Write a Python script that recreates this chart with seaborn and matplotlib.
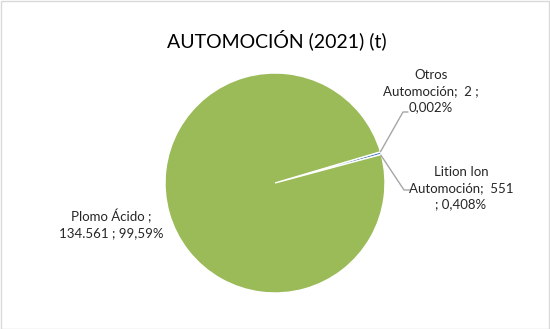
import numpy as np
import matplotlib
matplotlib.use("Agg")
import matplotlib.pyplot as plt
import seaborn as sns
from matplotlib.patches import Rectangle

# ---- data ----
categories = ["Otros\nAutomoción", "Lition Ion\nAutomoción", "Plomo Ácido"]
values = [2, 551, 134561]
value_labels = ["2", "551", "134.561"]
pct_labels = ["0,002%", "0,408%", "99,59%"]
colors = ["#C0504D", "#4F81BD", "#9BBB59"]
title = "AUTOMOCIÓN (2021) (t)"

sns.set_theme(style="white")
plt.rcParams["font.family"] = ["Lato", "DejaVu Sans"]

W, H = 550, 329
fig = plt.figure(figsize=(W / 100, H / 100), dpi=100)
ax = fig.add_axes([0, 0, 1, 1])

cx, cy, r = 275, H - 183, 110
wedges, _ = ax.pie(values, colors=colors, startangle=16.5, counterclock=False,
                   center=(cx, cy), radius=r, frame=True,
                   wedgeprops=dict(edgecolor="white", linewidth=1.0))
ax.set_xlim(0, W)
ax.set_ylim(0, H)
ax.set_aspect("equal")
ax.axis("off")

# border
fig.patches.append(Rectangle((0.5 / W, 0.5 / H), 1 - 1.5 / W, 1 - 1.5 / H,
                             transform=fig.transFigure, fill=False,
                             edgecolor="#D9D9D9", linewidth=1.0))

ax.text(W / 2 + 2, H - 40, title, ha="center", va="center", fontsize=14, color="#000000")

lab_fs = 9.5
txt_c = "#262626"
line_c = "#A6A6A6"

def edge_pt(w):
    th = np.deg2rad((w.theta1 + w.theta2) / 2)
    return cx + r * np.cos(th), cy + r * np.sin(th)

# Otros
ex, ey = edge_pt(wedges[0])
ax.plot([ex, 403, 408], [ey, H - 112, H - 112], color=line_c, lw=1)
ax.text(431, H - 91, f"Otros\nAutomoción;  {value_labels[0]} ;\n{pct_labels[0]}",
        ha="center", va="center", fontsize=lab_fs, linespacing=1.4, color=txt_c)
# Litio
ex, ey = edge_pt(wedges[1])
ax.plot([ex, 404, 410], [ey - 2, H - 190, H - 190], color=line_c, lw=1)
ax.text(461, H - 188, f"Lition Ion\nAutomoción;  {value_labels[1]}\n; {pct_labels[1]}",
        ha="center", va="center", fontsize=lab_fs, linespacing=1.4, color=txt_c)
# Plomo
ax.text(111, H - 224, f"Plomo Ácido ;\n{value_labels[2]} ; {pct_labels[2]}",
        ha="center", va="center", fontsize=lab_fs, linespacing=1.4, color=txt_c)

fig.savefig("out.png", dpi=100)
